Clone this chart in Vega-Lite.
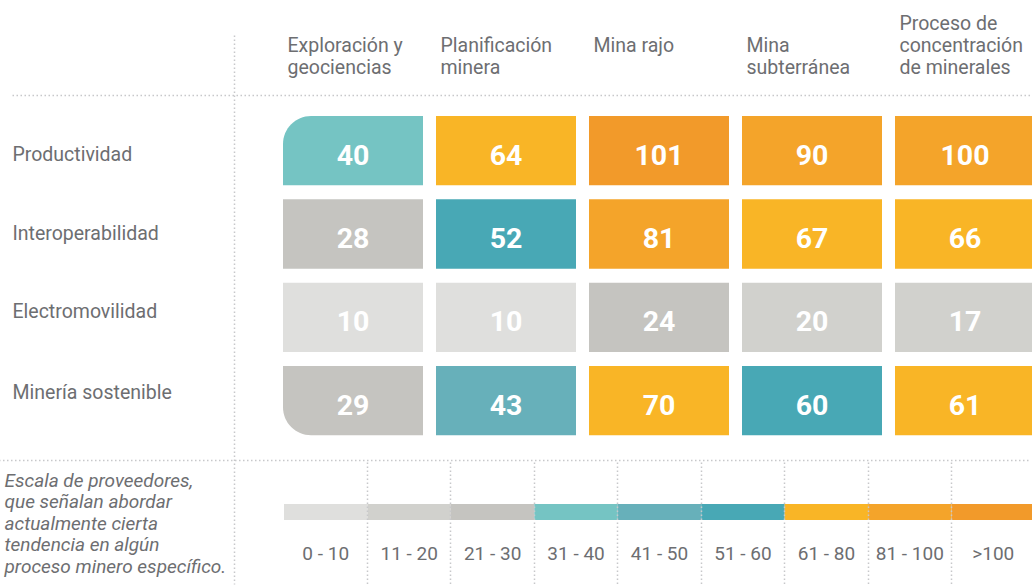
{
  "$schema": "https://vega.github.io/schema/vega-lite/v6.json",
  "width": 1032,
  "height": 585,
  "autosize": {"type": "fit", "contains": "padding"},
  "padding": 0,
  "background": "#ffffff",
  "config": {
    "view": {"stroke": null},
    "font": "Roboto",
    "axis": {"minExtent": 0, "labelOverlap": false, "labelLimit": 0, "labelAngle": 0}
  },
  "datasets": {
    "celdas": [
      {"tendencia": "Productividad", "proceso": "Exploración y geociencias", "valor": 40},
      {"tendencia": "Productividad", "proceso": "Planificación minera", "valor": 64},
      {"tendencia": "Productividad", "proceso": "Mina rajo", "valor": 101},
      {"tendencia": "Productividad", "proceso": "Mina subterránea", "valor": 90},
      {"tendencia": "Productividad", "proceso": "Proceso de concentración de minerales", "valor": 100},
      {"tendencia": "Interoperabilidad", "proceso": "Exploración y geociencias", "valor": 28},
      {"tendencia": "Interoperabilidad", "proceso": "Planificación minera", "valor": 52},
      {"tendencia": "Interoperabilidad", "proceso": "Mina rajo", "valor": 81},
      {"tendencia": "Interoperabilidad", "proceso": "Mina subterránea", "valor": 67},
      {"tendencia": "Interoperabilidad", "proceso": "Proceso de concentración de minerales", "valor": 66},
      {"tendencia": "Electromovilidad", "proceso": "Exploración y geociencias", "valor": 10},
      {"tendencia": "Electromovilidad", "proceso": "Planificación minera", "valor": 10},
      {"tendencia": "Electromovilidad", "proceso": "Mina rajo", "valor": 24},
      {"tendencia": "Electromovilidad", "proceso": "Mina subterránea", "valor": 20},
      {"tendencia": "Electromovilidad", "proceso": "Proceso de concentración de minerales", "valor": 17},
      {"tendencia": "Minería sostenible", "proceso": "Exploración y geociencias", "valor": 29},
      {"tendencia": "Minería sostenible", "proceso": "Planificación minera", "valor": 43},
      {"tendencia": "Minería sostenible", "proceso": "Mina rajo", "valor": 70},
      {"tendencia": "Minería sostenible", "proceso": "Mina subterránea", "valor": 60},
      {"tendencia": "Minería sostenible", "proceso": "Proceso de concentración de minerales", "valor": 61}
    ],
    "escala": [
      {"rango": "0 - 10"},
      {"rango": "11 - 20"},
      {"rango": "21 - 30"},
      {"rango": "31 - 40"},
      {"rango": "41 - 50"},
      {"rango": "51 - 60"},
      {"rango": "61 - 80"},
      {"rango": "81 - 100"},
      {"rango": ">100"}
    ]
  },
  "layer": [
    {
      "data": {"name": "celdas"},
      "encoding": {
        "x": {
          "field": "proceso",
          "type": "nominal",
          "sort": null,
          "scale": {
            "domain": ["Exploración y geociencias", "Planificación minera", "Mina rajo", "Mina subterránea", "Proceso de concentración de minerales"],
            "range": [283, 1035],
            "paddingInner": 0.085,
            "paddingOuter": 0
          },
          "axis": {
            "orient": "top",
            "offset": -35,
            "title": null,
            "domain": false,
            "grid": false,
            "ticks": true,
            "tickSize": -549,
            "bandPosition": -0.35,
            "tickColor": "#c7c8ca",
            "tickDash": [1.5, 2.5],
            "tickWidth": 1.5,
            "tickOpacity": {"condition": {"test": "datum.value === 'Exploración y geociencias'", "value": 1}, "value": 0},
            "labelExpr": "datum.value === 'Exploración y geociencias' ? ['Exploración y', 'geociencias'] : datum.value === 'Planificación minera' ? ['Planificación', 'minera'] : datum.value === 'Mina subterránea' ? ['Mina', 'subterránea'] : datum.value === 'Proceso de concentración de minerales' ? ['Proceso de', 'concentración', 'de minerales'] : datum.value",
            "labelAlign": "left",
            "labelBaseline": "alphabetic",
            "labelOffset": -65.5,
            "labelPadding": {"condition": {"test": "datum.value === 'Proceso de concentración de minerales'", "value": 555}, "value": 532.5},
            "labelLineHeight": 22,
            "labelFont": "Roboto",
            "labelFontSize": 19.5,
            "labelColor": "#6d6e71"
          }
        },
        "y": {
          "field": "tendencia",
          "type": "nominal",
          "sort": null,
          "scale": {
            "domain": ["Productividad", "Interoperabilidad", "Electromovilidad", "Minería sostenible"],
            "range": [116, 435.3],
            "paddingInner": 0.168,
            "paddingOuter": 0
          },
          "axis": {
            "orient": "left",
            "offset": -12,
            "title": null,
            "domain": false,
            "grid": false,
            "ticks": true,
            "tickSize": -1019,
            "bandPosition": -0.2886,
            "tickColor": "#c7c8ca",
            "tickDash": [1.5, 2.5],
            "tickWidth": 1.5,
            "tickOpacity": {"condition": {"test": "datum.value === 'Productividad'", "value": 1}, "value": 0},
            "labelAlign": "left",
            "labelBaseline": "middle",
            "labelPadding": 1019,
            "labelOffset": {
              "condition": [
                {"test": "datum.value === 'Productividad'", "value": 4},
                {"test": "datum.value === 'Interoperabilidad'", "value": 0},
                {"test": "datum.value === 'Electromovilidad'", "value": -5}
              ],
              "value": -8
            },
            "labelFont": "Roboto",
            "labelFontSize": 19.5,
            "labelColor": "#6d6e71"
          }
        },
        "color": {
          "field": "valor",
          "type": "quantitative",
          "scale": {
            "type": "threshold",
            "domain": [11, 21, 31, 41, 51, 61, 81, 101],
            "range": ["#dfdfdd", "#d1d1cd", "#c5c4c0", "#75c4c3", "#67b0ba", "#48a8b5", "#f9b526", "#f4a42a", "#f29a2a"]
          },
          "legend": null
        }
      },
      "layer": [
        {
          "transform": [
            {"filter": "datum.proceso !== 'Exploración y geociencias' || (datum.tendencia !== 'Productividad' && datum.tendencia !== 'Minería sostenible')"}
          ],
          "mark": {"type": "rect"}
        },
        {
          "transform": [
            {"filter": "datum.proceso === 'Exploración y geociencias' && datum.tendencia === 'Productividad'"}
          ],
          "mark": {"type": "rect", "cornerRadiusTopLeft": 28}
        },
        {
          "transform": [
            {"filter": "datum.proceso === 'Exploración y geociencias' && datum.tendencia === 'Minería sostenible'"}
          ],
          "mark": {"type": "rect", "cornerRadiusBottomLeft": 28}
        },
        {
          "mark": {
            "type": "text",
            "font": "Roboto",
            "fontWeight": "bold",
            "fontSize": 28.5,
            "align": "center",
            "baseline": "middle",
            "dy": 5
          },
          "encoding": {
            "text": {"field": "valor", "type": "quantitative"},
            "color": {"value": "#ffffff"}
          }
        }
      ]
    },
    {
      "data": {"name": "escala"},
      "encoding": {
        "x": {
          "field": "rango",
          "type": "nominal",
          "sort": null,
          "scale": {
            "domain": ["0 - 10", "11 - 20", "21 - 30", "31 - 40", "41 - 50", "51 - 60", "61 - 80", "81 - 100", ">100"],
            "range": [284, 1035],
            "paddingInner": 0,
            "paddingOuter": 0
          },
          "axis": {
            "orient": "bottom",
            "offset": -123,
            "title": null,
            "domain": false,
            "grid": false,
            "ticks": true,
            "bandPosition": 1,
            "tickSize": 122,
            "tickColor": "#c7c8ca",
            "tickDash": [1.5, 2.5],
            "tickWidth": 1.5,
            "labelBaseline": "middle",
            "labelAlign": "center",
            "labelPadding": -31,
            "labelFont": "Roboto",
            "labelFontSize": 19,
            "labelColor": "#6d6e71"
          }
        },
        "y": {
          "datum": "Escala",
          "type": "nominal",
          "scale": {"range": [504, 520], "paddingInner": 0, "paddingOuter": 0},
          "axis": {
            "orient": "right",
            "labels": false,
            "domain": false,
            "grid": false,
            "ticks": true,
            "tickSize": -1030,
            "bandPosition": -2.75,
            "tickColor": "#c7c8ca",
            "tickDash": [1.5, 2.5],
            "tickWidth": 1.5,
            "title": ["Escala de proveedores,", "que señalan abordar", "actualmente cierta", "tendencia en algún", "proceso minero específico."],
            "titleAngle": 0,
            "titleAlign": "left",
            "titleBaseline": "alphabetic",
            "titleX": -1024,
            "titleY": 486,
            "titleLineHeight": 21.5,
            "titleFont": "Roboto",
            "titleFontSize": 19,
            "titleFontStyle": "italic",
            "titleFontWeight": "normal",
            "titleColor": "#6d6e71"
          }
        }
      },
      "layer": [
        {
          "mark": {"type": "rect"},
          "encoding": {
            "color": {
              "field": "rango",
              "type": "nominal",
              "scale": {
                "domain": ["0 - 10", "11 - 20", "21 - 30", "31 - 40", "41 - 50", "51 - 60", "61 - 80", "81 - 100", ">100"],
                "range": ["#dfdfdd", "#d1d1cd", "#c5c4c0", "#75c4c3", "#67b0ba", "#48a8b5", "#f9b526", "#f4a42a", "#f29a2a"]
              },
              "legend": null
            }
          }
        }
      ]
    }
  ],
  "resolve": {
    "scale": {"x": "independent", "y": "independent", "color": "independent"},
    "axis": {"x": "independent", "y": "independent"}
  }
}
